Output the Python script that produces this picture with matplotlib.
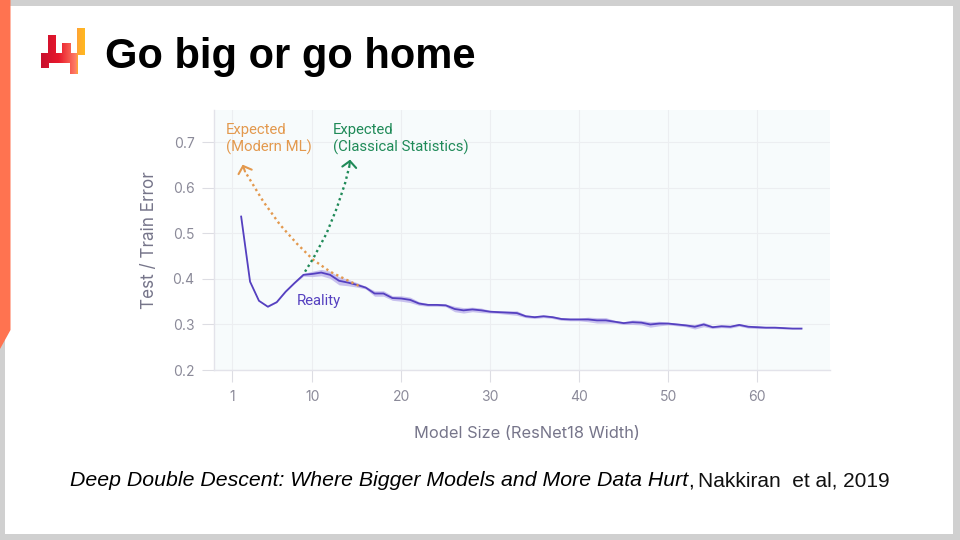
import numpy as np
import matplotlib
matplotlib.use("Agg")
import matplotlib.pyplot as plt
from matplotlib.patches import Polygon, Rectangle
from matplotlib.colors import LinearSegmentedColormap

# valeurs
widths = list(range(2, 66))
reality = [.537, .394, .352, .339, .349, .372, .391, .409, .411, .414, .409, .396, .392, .387,
           .381, .368, .368, .358, .357, .354, .346, .343, .343, .342, .334, .331, .333, .331,
           .328, .327, .326, .325, .318, .316, .318, .316, .312, .311, .311, .311, .309, .309,
           .306, .303, .305, .304, .300, .302, .302, .300, .298, .295, .300, .294, .296, .295,
           .299, .295, .294, .293, .293, .292, .291, .291]
band = [.001, .001, .001, .001, .001, .001, .001, .003, .006, .007, .008, .009, .007, .005,
        .003, .006, .006, .005, .006, .006, .004, .003, .003, .003, .006, .006, .005, .005,
        .003, .003, .004, .005, .003, .003, .003, .003, .003, .003, .003, .005, .006, .006,
        .003, .003, .005, .005, .006, .005, .003, .003, .003, .005, .005, .003, .003, .003,
        .003, .003, .003, .002, .002, .002, .001, .001]

modern_x = [15.2, 12.0, 10.1, 8.24, 6.37, 4.49, 2.43]
modern_y = [.385, .416, .442, .478, .519, .570, .636]
classical_x = [9.18, 10.1, 11.6, 12.74, 13.68, 14.16]
classical_y = [.416, .445, .500, .555, .610, .647]
modern_tip = (2.17, .651)
classical_tip = (14.24, .662)

x_ticks = [1, 10, 20, 30, 40, 50, 60]
y_ticks = [.2, .3, .4, .5, .6, .7]

# bouts du logo : x, y, largeur, hauteur en pixels
logo_bars = [(41, 53, 8, 15), (48, 35, 8, 28), (55, 53, 8, 10), (62, 43, 9, 20), (70, 53, 8, 21), (77, 28, 8, 27)]

GRID = "#eceef1"
TICK = "#8b8a99"
LABEL = "#76758a"
ORANGE = "#e3994e"
GREEN = "#1f8a58"
PURPLE = "#5540c0"

fig = plt.figure(figsize=(9.6, 5.4), dpi=100, facecolor="#d0d0d0")

# fond de la diapo, en pixels
bg = fig.add_axes([0, 0, 1, 1])
bg.set_xlim(0, 960)
bg.set_ylim(540, 0)
bg.axis("off")
bg.add_patch(Rectangle((5, 6), 948, 528, color="white", lw=0))
bg.add_patch(Polygon([(0, 0), (10.5, 0), (10.5, 330), (0, 349)], color="#ff7350", lw=0))

logo_cmap = LinearSegmentedColormap.from_list(
    "logo", [(0, "#c8102e"), (.4, "#e8182c"), (.62, "#f4504a"), (.8, "#ff8068"), (.84, "#ffa830"), (1, "#ffb820")])
grad = np.linspace(0, 1, 64).reshape(1, -1)
for bx, by, bw, bh in logo_bars:
    im = bg.imshow(grad, extent=(41, 85, 74, 28), cmap=logo_cmap, aspect="auto", zorder=2)
    im.set_clip_path(Rectangle((bx, by), bw, bh, transform=bg.transData))
bg.set_xlim(0, 960)
bg.set_ylim(540, 0)

fig.text(105 / 960, 1 - 57 / 540, "Go big or go home", family="Liberation Sans", weight="bold",
         fontsize=30, va="center", color="black")
fig.text(70 / 960, 1 - 481 / 540, "Deep Double Descent: Where Bigger Models and More Data Hurt", family="Liberation Sans",
         style="italic", fontsize=15.28, va="center", color="black")
fig.text(890 / 960, 1 - 481 / 540, "Nakkiran  et al, 2019", family="Liberation Sans",
         fontsize=15, va="center", ha="right", color="#111111")
fig.text(688 / 960, 1 - 481 / 540, ",", family="Liberation Sans", fontsize=15, va="center", color="black")

# le graphique
ax = fig.add_axes([213.5 / 960, 1 - 370 / 540, (830 - 213.5) / 960, 260 / 540], facecolor="#f7fbfc")
ax.set_xlim(-1.11, 68.2)
ax.set_ylim(.2, .771)
ax.set_xticks(x_ticks)
ax.set_yticks(y_ticks)
ax.grid(True, color=GRID, lw=.8)
ax.set_axisbelow(True)
for s in ["top", "right"]:
    ax.spines[s].set_visible(False)
for s in ["left", "bottom"]:
    ax.spines[s].set_color("#e3e3ea")
    ax.spines[s].set_linewidth(1)
ax.tick_params(axis="x", length=8.6, width=.8, color="#dddde3", labelcolor=TICK, labelsize=10, pad=5.5)
ax.tick_params(axis="y", length=8.6, width=.8, color="#dddde3", labelcolor=TICK, labelsize=10, pad=5)
ax.set_yticklabels(["0.2", "0.3", "0.4", "0.5", "0.6", "0.7"])
for t in ax.get_xticklabels() + ax.get_yticklabels():
    t.set_family("Inter")
ax.set_xlabel("Model Size (ResNet18 Width)", family="Inter", fontsize=11.8, color=LABEL, labelpad=16, x=.5085)
ax.set_ylabel("Test / Train Error", family="Inter", fontsize=12.3, color=LABEL, labelpad=10.5)

reality = np.array(reality)
band = np.array(band)
ax.fill_between(widths, reality - band, reality + band, color="#b9aeea", alpha=.75, lw=0, zorder=2)
ax.plot(widths, reality, color=PURPLE, lw=1.3, zorder=3)

ax.plot(modern_x, modern_y, color=ORANGE, lw=1.7, ls=(0, (1, 1.4)), zorder=4)
ax.plot(classical_x, classical_y, color=GREEN, lw=1.7, ls=(0, (1, 1.4)), zorder=4)
ax.annotate("", xy=modern_tip, xytext=(modern_x[-1], modern_y[-1]),
            arrowprops=dict(arrowstyle="->,head_length=.45,head_width=.5", color=ORANGE, lw=1.5, shrinkA=0, shrinkB=0))
ax.annotate("", xy=classical_tip, xytext=(classical_x[-1], classical_y[-1]),
            arrowprops=dict(arrowstyle="->,head_length=.45,head_width=.5", color=GREEN, lw=1.5, shrinkA=0, shrinkB=0))

ax.text(0.27, .708, "Expected\n(Modern ML)", family="Roboto", fontsize=10.7, color=ORANGE, va="center", linespacing=1.25)
ax.text(12.3, .708, "Expected\n(Classical Statistics)", family="Roboto", fontsize=10.7, color=GREEN, va="center", linespacing=1.25)
ax.text(8.25, .352, "Reality", family="Roboto", fontsize=10.7, color=PURPLE, va="center")

fig.savefig("out.png", dpi=100, facecolor=fig.get_facecolor())
